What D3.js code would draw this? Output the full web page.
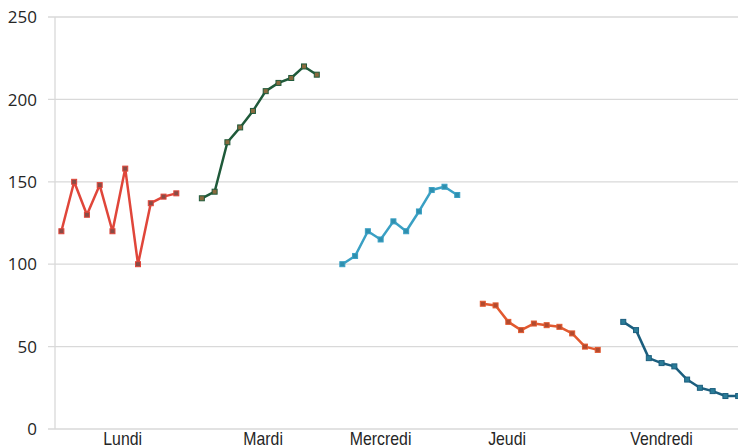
<!DOCTYPE html>
<meta charset="utf-8">
<style>
  body { margin: 0; background: #fff; }
  .grid line { stroke: #d9d9d9; stroke-width: 1.3; }
  .ylab { font-family: "Open Sans", sans-serif; font-size: 17px; fill: #262626; }
  .xlab { font-family: "Liberation Sans", Arial, sans-serif; font-size: 18px; fill: #262626; }
</style>
<body>
<script src="https://d3js.org/d3.v7.min.js"></script>
<script>

// days and their values, 10 points each
var days = ["Lundi", "Mardi", "Mercredi", "Jeudi", "Vendredi"];
var lundi    = [120, 150, 130, 148, 120, 158, 100, 137, 141, 143];
var mardi    = [140, 144, 174, 183, 193, 205, 210, 213, 220, 215];
var mercredi = [100, 105, 120, 115, 126, 120, 132, 145, 147, 142];
var jeudi    = [76, 75, 65, 60, 64, 63, 62, 58, 50, 48];
var vendredi = [65, 60, 43, 40, 38, 30, 25, 23, 20, 20];
var yTicks = [0, 50, 100, 150, 200, 250];
// where each day label sits along the axis (in point slots)
var labelAt = [5.3, 16.3, 25.5, 35.4, 47.5];

var series = [lundi, mardi, mercredi, jeudi, vendredi];
var lineColors = ["#e0463a", "#1f5a3a", "#3aa0c4", "#e2592f", "#1b5e7e"];
var markColors = ["#8a4b45", "#8a6a3e", "#2f8fae", "#b24a2e", "#2b7c98"];

var width = 738, height = 447;
var slot = 12.77, perGroup = 11;

var x = d3.scaleLinear()
    .domain([0, days.length * perGroup])
    .range([55, 55 + days.length * perGroup * slot]);

var y = d3.scaleLinear()
    .domain([0, 250])
    .range([429, 17]);

var svg = d3.select("body").append("svg")
    .attr("width", width)
    .attr("height", height);

// gridlines
svg.append("g").attr("class", "grid")
  .selectAll("line")
  .data(yTicks)
  .enter().append("line")
    .attr("x1", 48)
    .attr("x2", width)
    .attr("y1", function(d) { return y(d); })
    .attr("y2", function(d) { return y(d); });

// vertical axis line
svg.append("line")
    .attr("x1", 55).attr("x2", 55)
    .attr("y1", y(250)).attr("y2", y(0))
    .attr("stroke", "#d9d9d9")
    .attr("stroke-width", 1.3);

// y labels
svg.selectAll(".ylab")
  .data(yTicks)
  .enter().append("text")
    .attr("class", "ylab")
    .attr("x", 37)
    .attr("y", function(d) { return y(d); })
    .attr("dy", "0.36em")
    .attr("text-anchor", "end")
    .text(function(d) { return d; });

// day labels
svg.selectAll(".xlab")
  .data(days)
  .enter().append("text")
    .attr("class", "xlab")
    .attr("text-anchor", "middle")
    .attr("transform", function(d, i) { return "translate(" + x(labelAt[i]) + ",445) scale(0.88,1)"; })
    .text(function(d) { return d; });

var line = d3.line()
    .x(function(d) { return x(d.i); })
    .y(function(d) { return y(d.v); });

series.forEach(function(vals, g) {
  var pts = vals.map(function(v, k) { return { i: g * perGroup + k + 0.5, v: v }; });

  svg.append("path")
      .datum(pts)
      .attr("fill", "none")
      .attr("stroke", lineColors[g])
      .attr("stroke-width", 2.5)
      .attr("stroke-linejoin", "round")
      .attr("d", line);

  svg.selectAll(".m" + g)
    .data(pts)
    .enter().append("rect")
      .attr("class", "m" + g)
      .attr("x", function(d) { return x(d.i) - 2.5; })
      .attr("y", function(d) { return y(d.v) - 2.5; })
      .attr("width", 5)
      .attr("height", 5)
      .attr("fill", markColors[g])
      .attr("stroke", lineColors[g])
      .attr("stroke-width", 1);
});

</script>
</body>
